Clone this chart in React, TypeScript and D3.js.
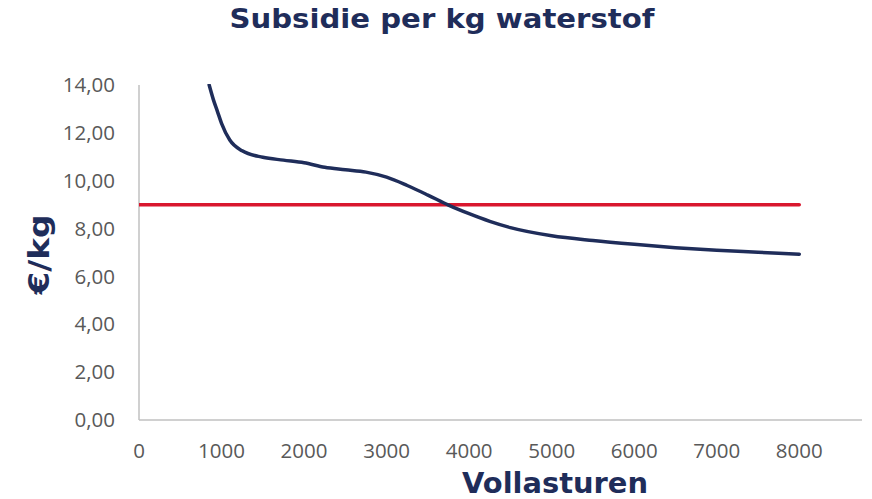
import React from "react";
import * as d3 from "d3";

// full-load hours vs subsidy per kg of hydrogen
const hours = [850, 900, 950, 1000, 1100, 1250, 1500, 1750, 2000, 2250, 2500, 2750, 3000, 3250, 3500, 3750, 4000, 4250, 4500, 5000, 5500, 6000, 6500, 7000, 7500, 8000];
const subsidy = [14.0, 13.4, 12.9, 12.4, 11.7, 11.25, 10.98, 10.86, 10.75, 10.56, 10.46, 10.36, 10.15, 9.8, 9.4, 8.98, 8.62, 8.3, 8.04, 7.7, 7.5, 7.34, 7.2, 7.09, 7.01, 6.93];

// flat reference level
const refHours = [0, 8000];
const refValue = [9.0, 9.0];

const xTicks = [0, 1000, 2000, 3000, 4000, 5000, 6000, 7000, 8000];
const yTicks = [0, 2, 4, 6, 8, 10, 12, 14];

const title = "Subsidie per kg waterstof";
const xTitle = "Vollasturen";
const yTitle = "€/kg";

const W = 872;
const H = 499;
const NAVY = "#1f2d5a";
const RED = "#d9172e";
const GREY = "#595959";
const BOLD = "'DejaVu Sans', Verdana, sans-serif";
const PLAIN = "'Open Sans', sans-serif";

export default function App() {
  const x = d3.scaleLinear().domain([0, 8760]).range([139, 862]);
  const y = d3.scaleLinear().domain([0, 14]).range([420, 85]);

  const curve = d3
    .line<number>()
    .x((_, i) => x(hours[i]))
    .y((d) => y(d))
    .curve(d3.curveMonotoneX);

  const ref = d3
    .line<number>()
    .x((_, i) => x(refHours[i]))
    .y((d) => y(d));

  const fmt = (v: number) => v.toFixed(2).replace(".", ",");

  return (
    <svg width={W} height={H} style={{ position: "absolute", left: 0, top: 0, background: "#fff" }}>
      <defs>
        <clipPath id="plot">
          <rect x={x(0)} y={y(14) - 1} width={x(8760) - x(0)} height={y(0) - y(14) + 2} />
        </clipPath>
      </defs>

      <text x={442} y={28} textAnchor="middle" fontFamily={BOLD} fontWeight="bold" fontSize={26} fill={NAVY}
        textLength={425} lengthAdjust="spacingAndGlyphs">
        {title}
      </text>

      {/* axes */}
      <line x1={x(0)} x2={x(0)} y1={y(14)} y2={y(0)} stroke="#c0c0c0" strokeWidth={1.5} />
      <line x1={x(0)} x2={x(8760)} y1={y(0)} y2={y(0)} stroke="#c0c0c0" strokeWidth={1.5} />

      {yTicks.map((t) => (
        <text key={t} x={115} y={y(t)} dy="0.35em" textAnchor="end" fontFamily={PLAIN} fontSize={20.5} fill={GREY}>
          {fmt(t)}
        </text>
      ))}
      {xTicks.map((t) => (
        <text key={t} x={x(t)} y={451} dy="0.35em" textAnchor="middle" fontFamily={PLAIN} fontSize={20.5} fill={GREY}>
          {t}
        </text>
      ))}

      <text x={555} y={493} textAnchor="middle" fontFamily={BOLD} fontWeight="bold" fontSize={28} fill={NAVY}
        textLength={186} lengthAdjust="spacingAndGlyphs">
        {xTitle}
      </text>
      <text transform={`translate(49,${y(7) + 2}) rotate(-90)`} textAnchor="middle" fontFamily={BOLD} fontWeight="bold" fontSize={28} fill={NAVY}
        textLength={80} lengthAdjust="spacingAndGlyphs">
        {yTitle}
      </text>

      <g clipPath="url(#plot)">
        <path d={ref(refValue) ?? ""} fill="none" stroke={RED} strokeWidth={3.5} strokeLinecap="round" />
        <path d={curve(subsidy) ?? ""} fill="none" stroke={NAVY} strokeWidth={3.5} strokeLinecap="round" />
      </g>
    </svg>
  );
}
